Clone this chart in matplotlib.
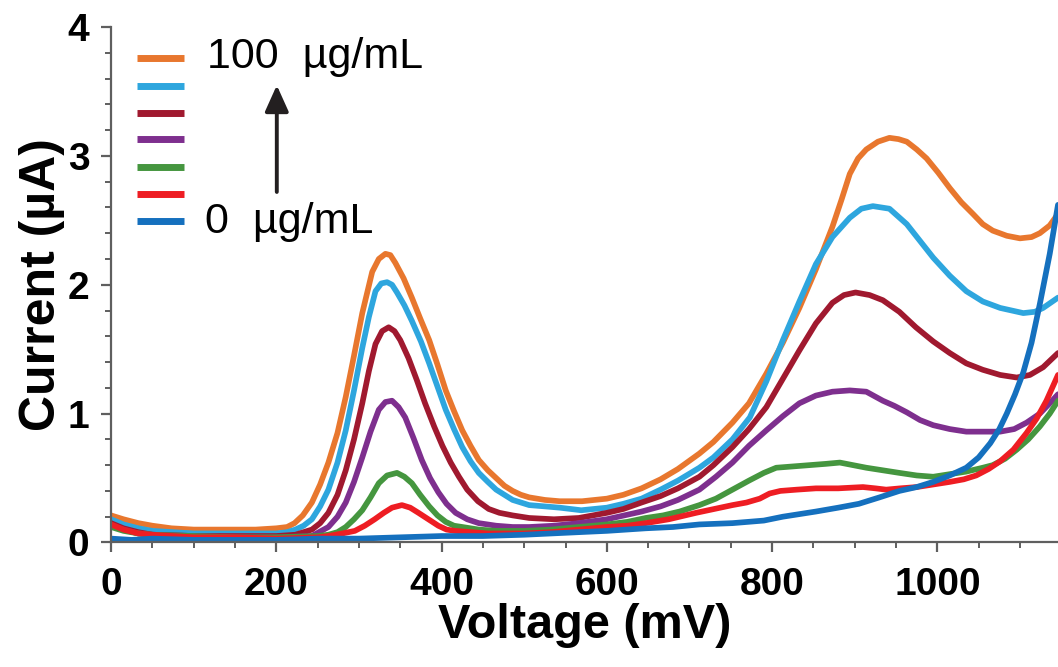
import matplotlib
matplotlib.use("Agg")
import matplotlib.pyplot as plt
from matplotlib.ticker import MultipleLocator

plt.rcParams['font.family'] = ['Liberation Sans', 'DejaVu Sans']

# traces: voltage (mV) and current (uA), highest conc. first
v1 = [0, 15, 33, 50, 73, 100, 125, 150, 175, 200, 213, 222, 232, 243, 253, 263, 274, 284, 294, 304,
      316, 324, 332, 338, 344, 354, 364, 374, 385, 395, 405, 415, 425, 435, 445, 456, 466, 476, 486,
      496, 506, 525, 543, 570, 600, 620, 642, 665, 686, 712, 729, 752, 772, 793, 813, 833, 853, 873,
      884, 894, 904, 914, 928, 942, 953, 963, 975, 987, 1001, 1015, 1029, 1043, 1055, 1067, 1084,
      1100, 1114, 1124, 1136, 1146]
i1 = [0.21, 0.18, 0.15, 0.13, 0.11, 0.10, 0.10, 0.10, 0.10, 0.11, 0.12, 0.15, 0.21, 0.31, 0.45, 0.62,
      0.85, 1.13, 1.45, 1.78, 2.10, 2.20, 2.24, 2.23, 2.17, 2.05, 1.90, 1.74, 1.57, 1.38, 1.18, 1.02,
      0.87, 0.75, 0.64, 0.56, 0.50, 0.44, 0.40, 0.37, 0.35, 0.33, 0.32, 0.32, 0.34, 0.37, 0.42, 0.49,
      0.57, 0.69, 0.78, 0.93, 1.08, 1.31, 1.55, 1.82, 2.12, 2.45, 2.66, 2.86, 2.98, 3.05, 3.11, 3.14,
      3.13, 3.11, 3.05, 2.98, 2.87, 2.75, 2.64, 2.55, 2.47, 2.42, 2.38, 2.36, 2.37, 2.40, 2.46, 2.55]

v2 = [0, 15, 33, 50, 75, 100, 150, 200, 213, 223, 233, 243, 253, 263, 274, 284, 294, 304, 312, 320,
      327, 334, 340, 346, 355, 364, 375, 385, 395, 405, 415, 425, 435, 445, 456, 466, 476, 486, 506,
      525, 543, 569, 600, 620, 642, 665, 686, 712, 729, 752, 773, 793, 813, 833, 853, 873, 894, 908,
      922, 942, 963, 979, 995, 1015, 1035, 1055, 1076, 1090, 1104, 1118, 1128, 1146]
i2 = [0.18, 0.14, 0.11, 0.09, 0.08, 0.07, 0.07, 0.07, 0.08, 0.10, 0.13, 0.18, 0.28, 0.41, 0.62, 0.87,
      1.18, 1.51, 1.75, 1.95, 2.01, 2.02, 2.00, 1.94, 1.84, 1.72, 1.56, 1.39, 1.21, 1.03, 0.88, 0.74,
      0.63, 0.54, 0.47, 0.41, 0.37, 0.33, 0.29, 0.28, 0.27, 0.25, 0.27, 0.30, 0.34, 0.41, 0.48, 0.58,
      0.66, 0.80, 0.97, 1.25, 1.57, 1.87, 2.16, 2.37, 2.52, 2.59, 2.61, 2.59, 2.47, 2.34, 2.21, 2.07,
      1.95, 1.87, 1.82, 1.80, 1.78, 1.79, 1.82, 1.90]

v3 = [0, 15, 33, 50, 100, 150, 200, 223, 243, 253, 263, 274, 284, 294, 304, 312, 320, 328, 336, 343,
      350, 360, 370, 380, 391, 401, 411, 421, 431, 444, 457, 470, 486, 506, 536, 566, 600, 620, 642,
      665, 686, 712, 729, 752, 772, 793, 813, 833, 853, 873, 887, 901, 918, 934, 954, 974, 995, 1015,
      1035, 1055, 1076, 1096, 1112, 1128, 1146]
i3 = [0.15, 0.11, 0.08, 0.06, 0.05, 0.05, 0.05, 0.06, 0.10, 0.15, 0.23, 0.37, 0.56, 0.80, 1.08, 1.33,
      1.54, 1.64, 1.67, 1.64, 1.57, 1.43, 1.26, 1.08, 0.90, 0.75, 0.62, 0.51, 0.41, 0.32, 0.26, 0.23,
      0.21, 0.19, 0.18, 0.19, 0.23, 0.26, 0.31, 0.36, 0.42, 0.51, 0.60, 0.74, 0.88, 1.05, 1.27, 1.49,
      1.70, 1.86, 1.92, 1.94, 1.92, 1.88, 1.79, 1.67, 1.56, 1.47, 1.39, 1.34, 1.30, 1.28, 1.30, 1.36,
      1.47]

v4 = [0, 15, 33, 50, 100, 150, 200, 243, 263, 274, 284, 294, 304, 314, 324, 332, 340, 348, 356, 366,
      376, 386, 396, 406, 417, 431, 445, 466, 486, 506, 536, 566, 600, 642, 665, 686, 712, 732, 752,
      772, 793, 813, 833, 853, 873, 894, 914, 934, 948, 963, 979, 995, 1015, 1035, 1055, 1076, 1093,
      1108, 1124, 1136, 1146]
i4 = [0.13, 0.10, 0.07, 0.06, 0.05, 0.04, 0.04, 0.05, 0.12, 0.20, 0.31, 0.47, 0.66, 0.86, 1.03, 1.09,
      1.10, 1.05, 0.97, 0.81, 0.64, 0.50, 0.39, 0.30, 0.23, 0.18, 0.15, 0.13, 0.12, 0.12, 0.13, 0.15,
      0.18, 0.24, 0.28, 0.33, 0.41, 0.51, 0.62, 0.75, 0.87, 0.98, 1.08, 1.14, 1.17, 1.18, 1.17, 1.10,
      1.06, 1.01, 0.95, 0.91, 0.88, 0.86, 0.86, 0.86, 0.88, 0.93, 1.00, 1.08, 1.15]

v5 = [0, 15, 33, 50, 100, 150, 200, 250, 263, 274, 284, 294, 304, 314, 324, 334, 346, 355, 364, 374,
      385, 395, 405, 415, 425, 445, 466, 500, 533, 566, 600, 625, 647, 668, 688, 712, 732, 752, 772,
      790, 805, 825, 845, 865, 882, 898, 914, 934, 954, 975, 995, 1015, 1035, 1055, 1067, 1082, 1096,
      1110, 1124, 1136, 1146]
i5 = [0.12, 0.09, 0.07, 0.06, 0.05, 0.04, 0.04, 0.05, 0.06, 0.08, 0.12, 0.18, 0.25, 0.35, 0.46, 0.52,
      0.54, 0.51, 0.46, 0.37, 0.28, 0.21, 0.16, 0.13, 0.12, 0.10, 0.09, 0.09, 0.10, 0.12, 0.14, 0.16,
      0.19, 0.21, 0.24, 0.29, 0.34, 0.41, 0.48, 0.54, 0.58, 0.59, 0.60, 0.61, 0.62, 0.60, 0.58, 0.56,
      0.54, 0.52, 0.51, 0.53, 0.55, 0.58, 0.60, 0.65, 0.72, 0.80, 0.90, 1.00, 1.10]

v6 = [0, 15, 33, 50, 75, 100, 150, 200, 250, 263, 280, 295, 307, 319, 330, 340, 352, 362, 372, 384,
      396, 406, 416, 436, 456, 480, 500, 533, 566, 600, 625, 647, 675, 708, 730, 752, 769, 785, 797,
      810, 830, 853, 880, 910, 925, 938, 955, 975, 995, 1015, 1032, 1047, 1062, 1076, 1092, 1108,
      1120, 1132, 1146]
i6 = [0.14, 0.10, 0.07, 0.06, 0.05, 0.04, 0.04, 0.03, 0.04, 0.05, 0.07, 0.09, 0.13, 0.18, 0.23, 0.27,
      0.29, 0.27, 0.23, 0.18, 0.13, 0.10, 0.09, 0.08, 0.07, 0.07, 0.07, 0.08, 0.10, 0.12, 0.13, 0.15,
      0.18, 0.23, 0.26, 0.29, 0.31, 0.34, 0.38, 0.40, 0.41, 0.42, 0.42, 0.43, 0.42, 0.41, 0.42, 0.43,
      0.45, 0.47, 0.49, 0.52, 0.57, 0.63, 0.72, 0.85, 0.96, 1.10, 1.30]

v7 = [0, 25, 50, 100, 150, 200, 250, 300, 350, 400, 450, 500, 533, 566, 600, 647, 680, 712, 752, 790,
      813, 833, 853, 880, 905, 930, 954, 975, 995, 1015, 1035, 1050, 1064, 1075, 1084, 1094, 1104,
      1114, 1124, 1136, 1146]
i7 = [0.03, 0.02, 0.03, 0.02, 0.02, 0.02, 0.03, 0.03, 0.04, 0.05, 0.05, 0.06, 0.07, 0.08, 0.09, 0.11,
      0.12, 0.14, 0.15, 0.17, 0.20, 0.22, 0.24, 0.27, 0.30, 0.35, 0.40, 0.43, 0.47, 0.52, 0.58, 0.66,
      0.77, 0.88, 1.00, 1.15, 1.32, 1.55, 1.85, 2.24, 2.62]

volts = [v1, v2, v3, v4, v5, v6, v7]
currents = [i1, i2, i3, i4, i5, i6, i7]
colors = ['#E8772E', '#2EA6DE', '#A0192F', '#7E2F8E', '#45963F', '#EE1D23', '#1570BE']
top_label = '100  µg/mL'
bottom_label = '0  µg/mL'

fig = plt.figure(figsize=(10.58, 6.67), dpi=100)
ax = fig.add_axes([0.105, 0.1867, 0.895, 0.7728])

for v, c, col in zip(volts, currents, colors):
    ax.plot(v, c, color=col, lw=4.1, solid_joinstyle='round', solid_capstyle='round')

ax.set_xlim(0, 1146)
ax.set_ylim(0, 4)
ax.xaxis.set_major_locator(MultipleLocator(200))
ax.xaxis.set_minor_locator(MultipleLocator(50))
ax.yaxis.set_major_locator(MultipleLocator(1))
ax.yaxis.set_minor_locator(MultipleLocator(0.2))

spine_col = '#5f5f5f'
for s in ['top', 'right']:
    ax.spines[s].set_visible(False)
for s in ['left', 'bottom']:
    ax.spines[s].set_color(spine_col)
    ax.spines[s].set_linewidth(1.6)
ax.tick_params(which='major', direction='out', length=7.5, width=1.6, color=spine_col,
               labelsize=28, pad=8)
ax.tick_params(which='minor', direction='out', length=4.5, width=1.4, color=spine_col)
for lab in ax.get_xticklabels() + ax.get_yticklabels():
    lab.set_fontweight('bold')
ax.tick_params(axis='x', which='major', pad=10)

ax.set_xlabel('Voltage (mV)', fontsize=35, fontweight='bold', labelpad=0)
ax.set_ylabel('Current (µA)', fontsize=36, fontweight='bold', labelpad=2)

# hand-made legend: stacked colour bars, arrow, end labels
row_y = [0.940, 0.886, 0.833, 0.783, 0.728, 0.676, 0.624]
for y, col in zip(row_y, colors):
    ax.plot([0.0275, 0.077], [y, y], color=col, lw=5, transform=ax.transAxes,
            solid_capstyle='butt', clip_on=False)
ax.text(0.101, 0.921, top_label, transform=ax.transAxes, fontsize=31, va='baseline', ha='left')
ax.text(0.099, 0.600, bottom_label, transform=ax.transAxes, fontsize=31, va='baseline', ha='left')
ax.annotate('', xy=(0.175, 0.887), xytext=(0.175, 0.680), xycoords='axes fraction',
            arrowprops=dict(arrowstyle='-|>,head_length=1.6,head_width=0.72', color='#231F20',
                            lw=2.8, shrinkA=0, shrinkB=0))

fig.savefig('out.png', dpi=100)
